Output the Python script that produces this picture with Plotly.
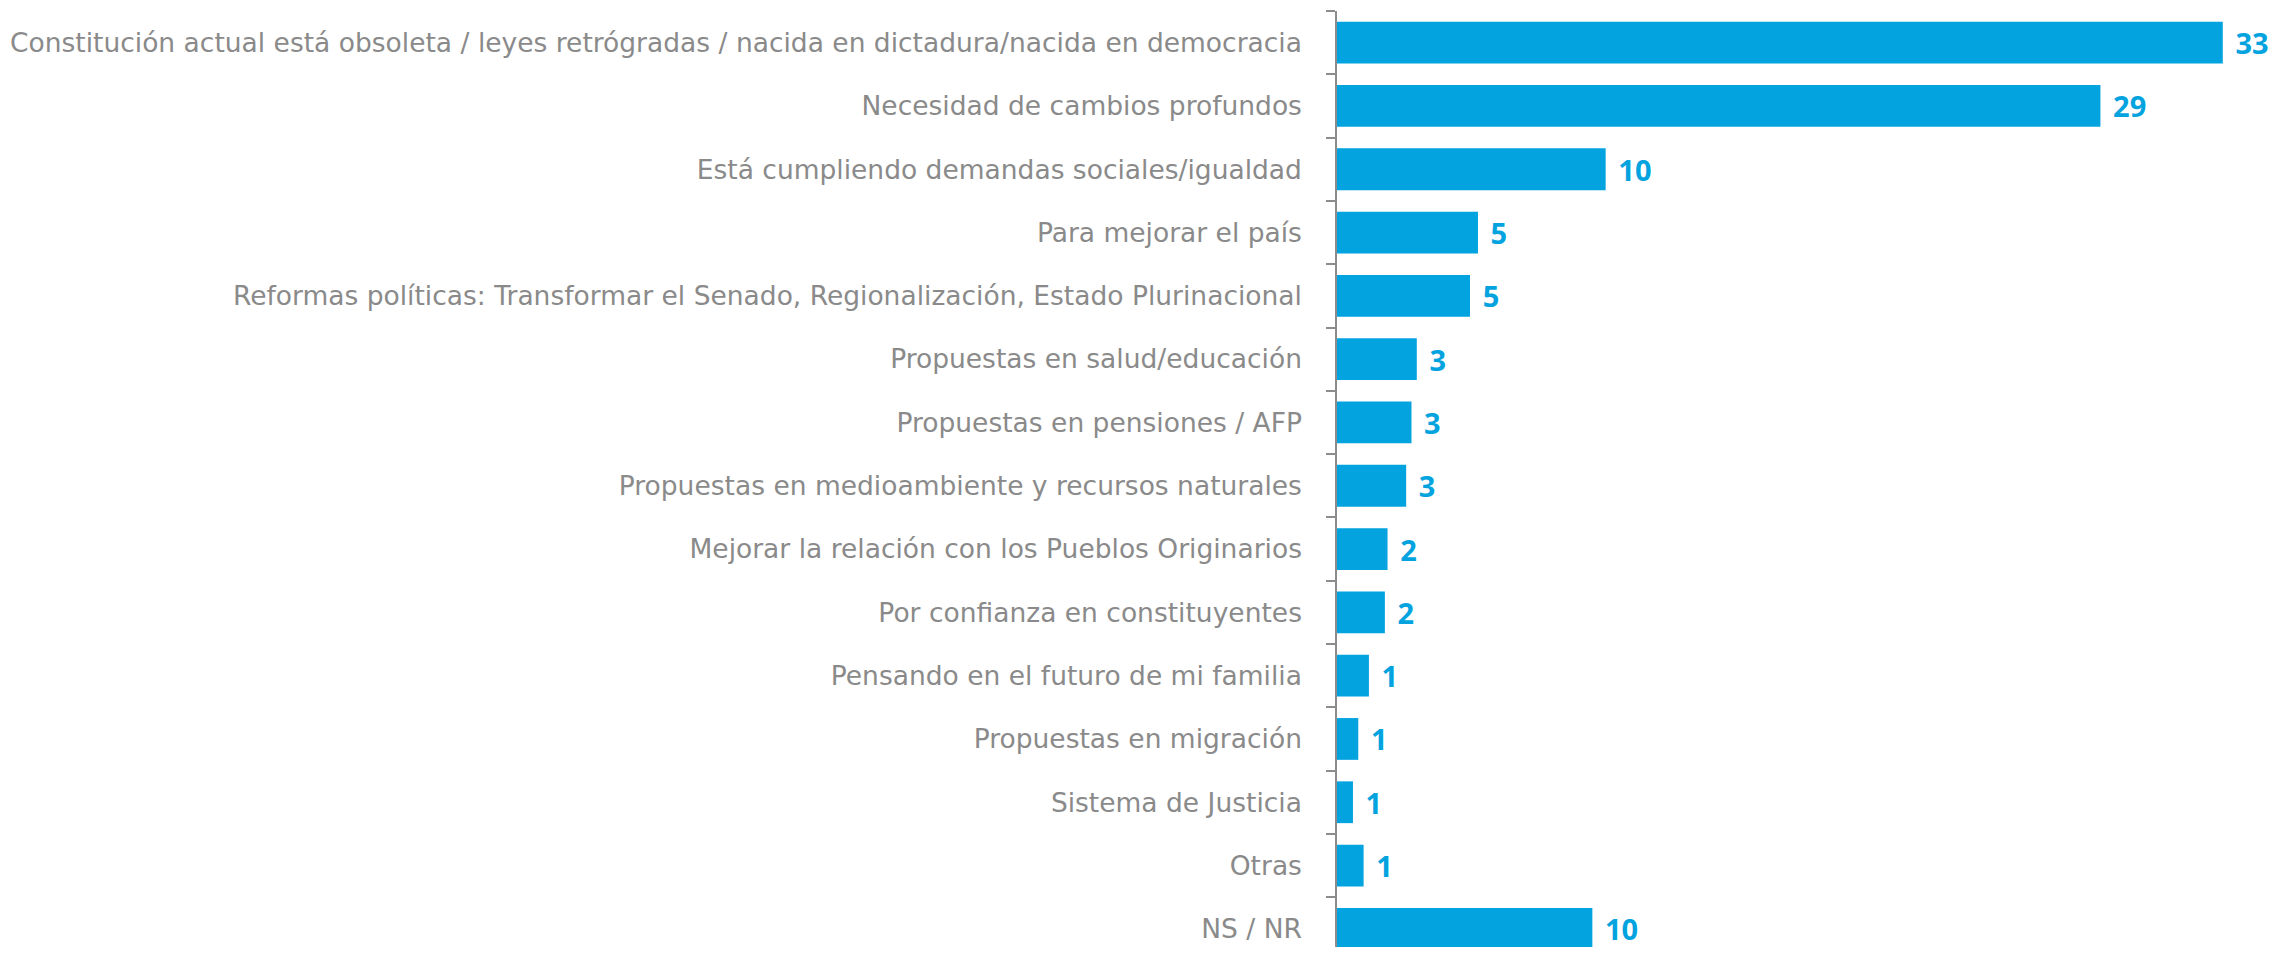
import plotly.graph_objects as go

categories = [
    "Constitución actual está obsoleta / leyes retrógradas / nacida en dictadura/nacida en democracia",
    "Necesidad de cambios profundos",
    "Está cumpliendo demandas sociales/igualdad",
    "Para mejorar el país",
    "Reformas políticas: Transformar el Senado, Regionalización, Estado Plurinacional",
    "Propuestas en salud/educación",
    "Propuestas en pensiones / AFP",
    "Propuestas en medioambiente y recursos naturales",
    "Mejorar la relación con los Pueblos Originarios",
    "Por confianza en constituyentes",
    "Pensando en el futuro de mi familia",
    "Propuestas en migración",
    "Sistema de Justicia",
    "Otras",
    "NS / NR",
]
values = [33.3, 28.7, 10.1, 5.3, 5.0, 3.0, 2.8, 2.6, 1.9, 1.8, 1.2, 0.8, 0.6, 1.0, 9.6]

# page body has an 8px default margin; keep the page free of scrollbars
OFF = 8
W, H = 2279 - OFF, 955 - 2 * OFF
axis_x = 1337 - OFF
top = 11 - OFF
pitch = 63.3
px_per_unit = 26.6

plot_h = H - top
y_span = plot_h / pitch
x_max = (W - axis_x) / px_per_unit

fig = go.Figure(go.Bar(
    x=values,
    y=categories,
    orientation="h",
    marker=dict(color="#03A3E0", line=dict(width=0)),
    width=0.66,
    text=values,
    texttemplate="\u2009\u2009%{x:.0f}",
    textposition="outside",
    cliponaxis=False,
    textfont=dict(family="Open Sans", size=29, color="#03A3E0", weight=700),
))

fig.update_layout(
    width=W, height=H,
    margin=dict(l=axis_x, r=0, t=top, b=0, pad=0),
    plot_bgcolor="white", paper_bgcolor="white",
    showlegend=False,
    xaxis=dict(range=[0, x_max], visible=False, fixedrange=True),
    yaxis=dict(
        range=[-0.5 + y_span, -0.5],
        categoryorder="array", categoryarray=categories,
        showline=True, linecolor="#8c8c8c", linewidth=1.5,
        ticks="outside", ticklen=9, tickcolor="#8c8c8c", tickwidth=1.5,
        tickson="boundaries",
        showgrid=False, zeroline=False,
        tickfont=dict(family="DejaVu Sans", size=26.5, color="#8a8a8a", weight=400),
        ticklabelstandoff=28,
    ),
)

fig.write_html("out.html")
